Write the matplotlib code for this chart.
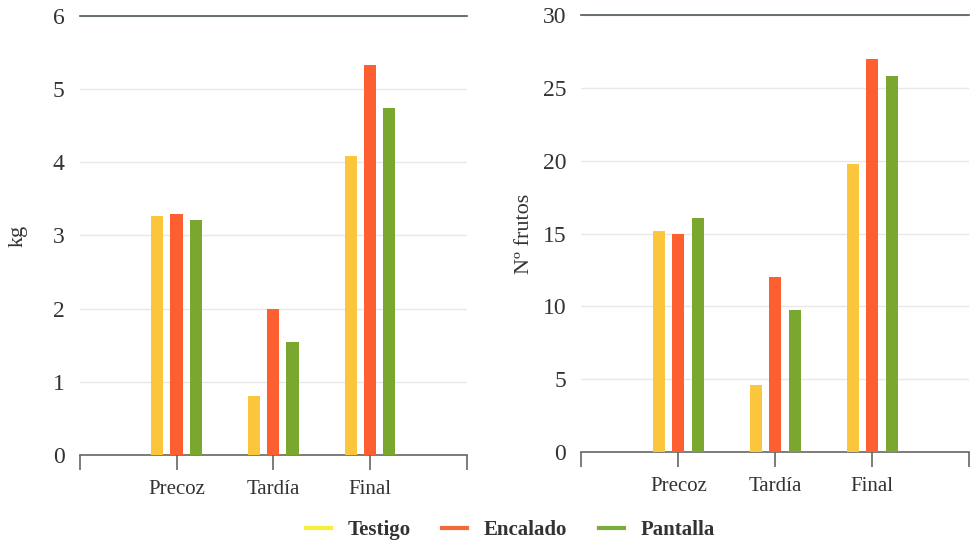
import numpy as np
import matplotlib
matplotlib.use("Agg")
import matplotlib.pyplot as plt
from matplotlib.lines import Line2D

categories = ["Precoz", "Tardía", "Final"]
series = ["Testigo", "Encalado", "Pantalla"]

kg_testigo = [3.27, 0.81, 4.08]
kg_encalado = [3.30, 2.00, 5.33]
kg_pantalla = [3.21, 1.55, 4.74]

frutos_testigo = [15.2, 4.6, 19.8]
frutos_encalado = [15.0, 12.0, 27.0]
frutos_pantalla = [16.1, 9.75, 25.85]

bar_colors = ["#fbc53c", "#fd5f30", "#7aa72d"]
legend_colors = ["#f7ee3c", "#f4683a", "#7aad3e"]

plt.rcParams['font.family'] = ['Liberation Serif', 'DejaVu Serif']


def drawPanel(ax, values, ymax, ystep, ylabel, labelpad):
    x = np.arange(1, len(categories) + 1)
    offsets = [-0.2, 0.0, 0.2]
    for vals, off, col in zip(values, offsets, bar_colors):
        ax.bar(x + off, vals, width=0.125, color=col, zorder=3)

    ax.set_xlim(0, 4)
    ax.set_ylim(0, ymax)
    ax.set_xticks(x)
    ax.set_xticklabels(categories, fontsize=15, color="#333333")
    ax.set_xticks([0, 4], minor=True)
    ax.tick_params(axis="x", which="both", length=11, width=1.2, color="#666666", pad=7)
    ax.set_yticks(np.arange(0, ymax + ystep / 2, ystep))
    ax.tick_params(axis="y", length=0, labelsize=17, pad=11, labelcolor="#333333")

    ax.yaxis.grid(True, color="#e8e8e8", linewidth=1.0, zorder=0)
    ax.set_axisbelow(True)
    for side in ["left", "right"]:
        ax.spines[side].set_visible(False)
    ax.spines["bottom"].set_color("#666666")
    ax.spines["bottom"].set_linewidth(1.2)
    ax.spines["top"].set_color("#4e5a4e")
    ax.spines["top"].set_linewidth(1.2)
    ax.set_ylabel(ylabel, fontsize=16, color="#333333", labelpad=labelpad)


fig = plt.figure(figsize=(9.74, 5.47), dpi=100)
ax1 = fig.add_axes([0.082, 0.168, 0.397, 0.803])
ax2 = fig.add_axes([0.597, 0.174, 0.398, 0.798])

drawPanel(ax1, [kg_testigo, kg_encalado, kg_pantalla], 6, 1, "kg", 18)
drawPanel(ax2, [frutos_testigo, frutos_encalado, frutos_pantalla], 30, 5, "Nº frutos", 6)

handles = [Line2D([0], [0], color=c, linewidth=3) for c in legend_colors]
leg = fig.legend(handles, series, loc="center", bbox_to_anchor=(0.524, 0.031),
                 ncol=3, frameon=False, handlelength=1.2, handletextpad=0.8,
                 columnspacing=1.5, prop={"weight": "bold", "size": 15})
for t in leg.get_texts():
    t.set_color("#333333")

fig.savefig("out.png", dpi=100)
